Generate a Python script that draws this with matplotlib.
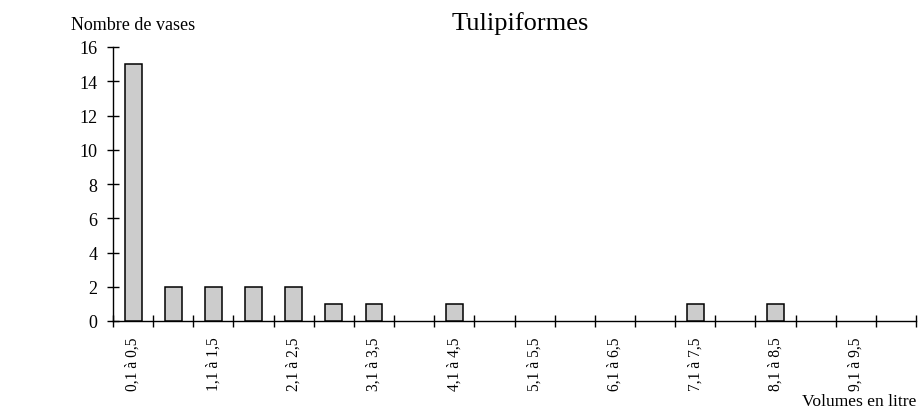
import matplotlib.pyplot as plt

# volume classes (litres) and number of vases in each
categories = ["0,1 à 0,5", "0,6 à 1", "1,1 à 1,5", "1,6 à 2", "2,1 à 2,5", "2,6 à 3",
              "3,1 à 3,5", "3,6 à 4", "4,1 à 4,5", "4,6 à 5", "5,1 à 5,5", "5,6 à 6",
              "6,1 à 6,5", "6,6 à 7", "7,1 à 7,5", "7,6 à 8", "8,1 à 8,5", "8,6 à 9",
              "9,1 à 9,5", "9,6 à 10"]
counts = [15, 2, 2, 2, 2, 1, 1, 0, 1, 0, 0, 0, 0, 0, 1, 0, 1, 0, 0, 0]
yticks = [0, 2, 4, 6, 8, 10, 12, 14, 16]

plt.rcParams["font.family"] = ["Liberation Serif", "DejaVu Serif"]

fig = plt.figure(figsize=(9.2, 4.14), dpi=100)
ax = fig.add_axes([113 / 920, 1 - 322 / 414, (916 - 113) / 920, (322 - 48) / 414])

# empty classes get no bar (no outline drawn on the axis)
x = list(range(len(categories)))
xs = [i for i in x if counts[i] > 0]
ys = [counts[i] for i in xs]
ax.bar(xs, ys, width=0.42, color="#cccccc", edgecolor="black", linewidth=1.1, zorder=3)

ax.set_xlim(-0.5, 19.5)
ax.set_ylim(0, 16)
for s in ["top", "right"]:
    ax.spines[s].set_visible(False)
ax.spines["left"].set_linewidth(1.0)
ax.spines["bottom"].set_linewidth(1.0)

# tick marks at class boundaries, labels on every other class
ax.set_xticks([i - 0.5 for i in range(len(categories) + 1)])
ax.set_xticklabels([])
ax.tick_params(axis="x", which="major", direction="inout", length=9, width=1.0)
ax.set_xticks(x[::2], minor=True)
ax.set_xticklabels(categories[::2], minor=True, rotation=90, va="top", ha="center")
ax.tick_params(axis="x", which="minor", length=0, pad=11, labelsize=11.2)

ax.set_yticks(yticks)
ax.tick_params(axis="y", direction="inout", length=8, width=1.0, pad=7, labelsize=13)

fig.text(71 / 920, 1 - 25 / 414, "Nombre de vases", fontsize=13, va="center", ha="left")
fig.text(520 / 920, 1 - 24 / 414, "Tulipiformes", fontsize=19, va="center", ha="center")
fig.text(916 / 920, 1 - 402 / 414, "Volumes en litre", fontsize=12.6, va="center", ha="right")

fig.savefig("out.png", dpi=100)
